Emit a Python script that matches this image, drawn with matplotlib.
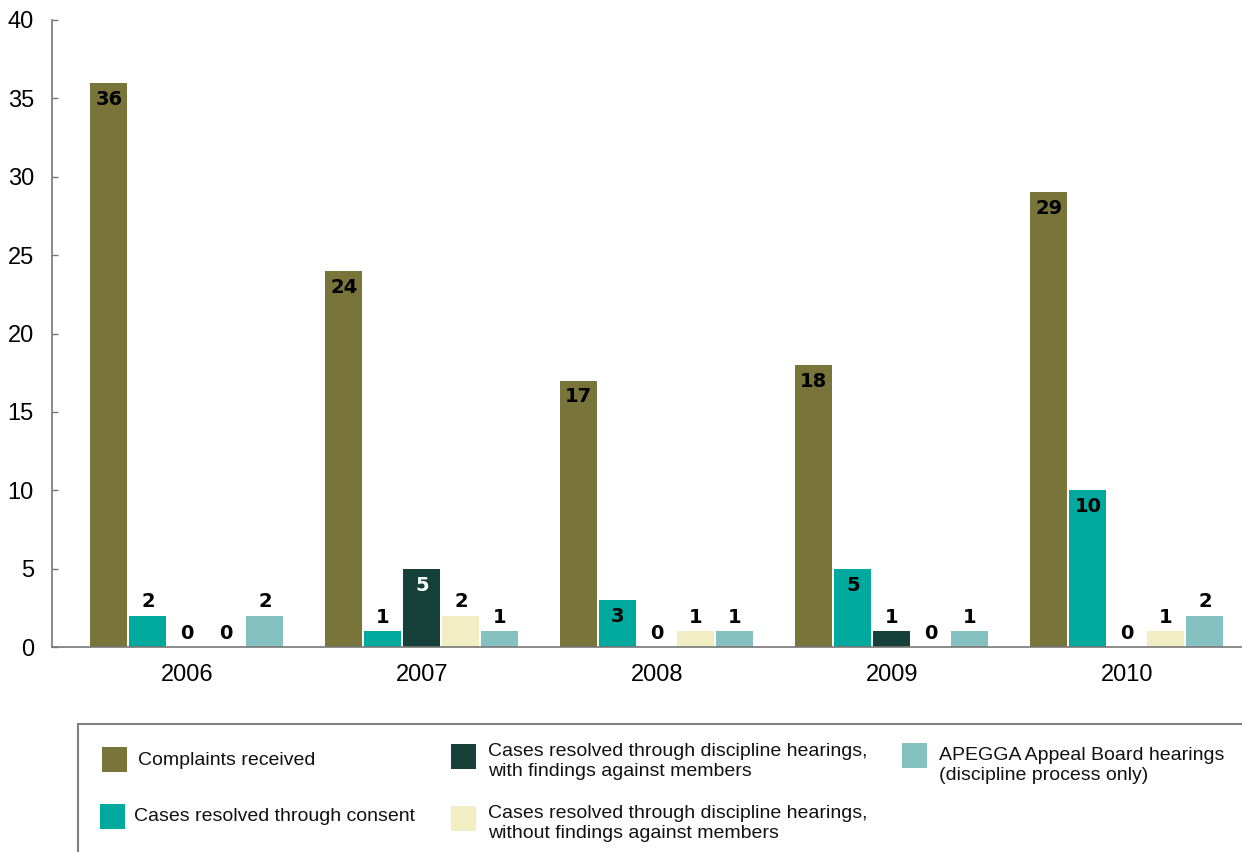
import matplotlib
matplotlib.use("Agg")
import matplotlib.pyplot as plt
import numpy as np
from matplotlib.patches import Rectangle

plt.rcParams['font.family'] = ['Liberation Sans', 'DejaVu Sans']

# complaints and discipline outcomes per year
years = ['2006', '2007', '2008', '2009', '2010']
complaints = [36, 24, 17, 18, 29]
consent = [2, 1, 3, 5, 10]
with_findings = [0, 5, 0, 1, 0]
without_findings = [0, 2, 1, 0, 1]
appeal = [2, 1, 1, 1, 2]

series = [complaints, consent, with_findings, without_findings, appeal]
colors = ['#78743a', '#00a99d', '#16413a', '#f0eec2', '#85c1c1']
label_colors = ['black', 'black', 'white', 'black', 'black']
names = ['Complaints received',
         'Cases resolved through consent',
         'Cases resolved through discipline hearings,\nwith findings against members',
         'Cases resolved through discipline hearings,\nwithout findings against members',
         'APEGGA Appeal Board hearings\n(discipline process only)']

W, H = 1242, 852
fig = plt.figure(figsize=(W / 100, H / 100), dpi=100)
ax = fig.add_axes([52 / W, 1 - 647 / H, 1 - 52 / W, (647 - 20) / H])

x = np.arange(len(years))
step = 0.166
width = 0.157
label_font = dict(family=['DejaVu Sans'], fontweight='bold', fontsize=14)

for i, (vals, col) in enumerate(zip(series, colors)):
    pos = x + (i - 2) * step
    ax.bar(pos, vals, width=width, color=col, linewidth=0)
    for p, v in zip(pos, vals):
        if v >= 3:
            ax.annotate(str(v), (p, v), xytext=(0, -5), textcoords='offset points',
                        ha='center', va='top', color=label_colors[i], **label_font)
        else:
            ax.annotate(str(v), (p, v), xytext=(0, 3), textcoords='offset points',
                        ha='center', va='bottom', color='black', **label_font)

ax.set_xlim(-0.574, 4.49)
ax.set_ylim(0, 40)
ax.set_yticks(range(0, 41, 5))
ax.set_xticks(x)
ax.set_xticklabels(years)
ax.tick_params(axis='y', direction='in', length=4.5, width=1, color='#777777',
               pad=13, labelsize=17)
ax.tick_params(axis='x', length=0, pad=12, labelsize=17)
for s in ['top', 'right']:
    ax.spines[s].set_visible(False)
for s in ['left', 'bottom']:
    ax.spines[s].set_color('#777777')
    ax.spines[s].set_linewidth(1.2)

# legend panel: box, then (patch x, patch top, text x, text top) per entry
fig.add_artist(Rectangle((78 / W, -0.05), 1.0, 1 - 724 / H + 0.05,
                         transform=fig.transFigure, facecolor='none',
                         edgecolor='#808080', linewidth=1.5))
entries = [(102, 747, 138, 752), (100, 804, 134, 808), (451, 744, 488, 743),
           (451, 806, 488, 805), (902, 743, 939, 747)]
for (px, py, tx, ty), col, name in zip(entries, colors, names):
    fig.add_artist(Rectangle((px / W, 1 - (py + 25) / H), 25 / W, 25 / H,
                             transform=fig.transFigure, facecolor=col,
                             edgecolor='none'))
    fig.text(tx / W, 1 - ty / H, name, ha='left', va='top', fontsize=14,
             linespacing=1.22, color='#111111')

fig.savefig('out.png', dpi=100)
